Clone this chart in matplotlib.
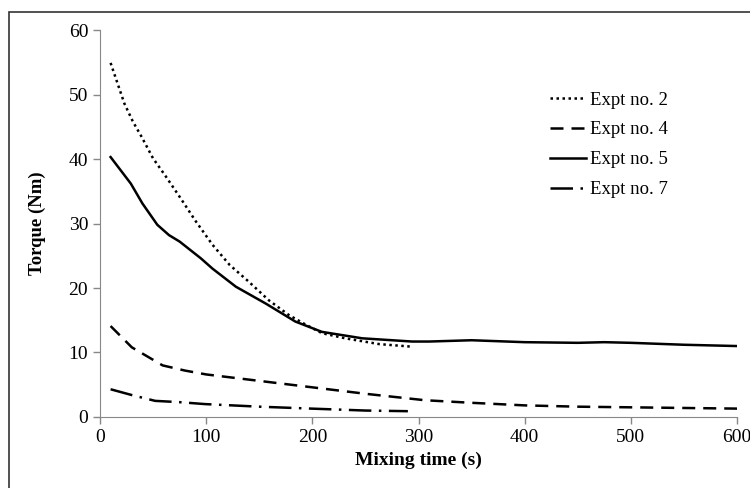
import numpy as np
import matplotlib.pyplot as plt
from matplotlib.patches import Rectangle

plt.rcParams['font.family'] = 'Liberation Serif'

# Torque vs mixing time
t2 = [10, 17, 23, 31, 39, 50, 62, 76, 90, 106, 122, 140, 159, 178, 194, 209, 231, 263, 294]
q2 = [54.9, 51.5, 48.6, 45.8, 43.5, 40.1, 37.3, 33.9, 30.4, 26.7, 23.6, 21.0, 18.1, 15.8, 14.3, 13.0, 12.2, 11.3, 10.9]

t4 = [10, 30, 59, 80, 100, 150, 200, 250, 306, 350, 400, 450, 500, 550, 600]
q4 = [14.1, 10.8, 8.0, 7.2, 6.6, 5.6, 4.6, 3.6, 2.6, 2.2, 1.8, 1.6, 1.5, 1.4, 1.3]

t5 = [10, 29, 40, 54, 65, 75, 95, 106, 128, 156, 184, 209, 247, 294, 310, 350, 400, 450, 475, 500, 550, 600]
q5 = [40.3, 36.2, 33.1, 29.8, 28.2, 27.2, 24.6, 23.0, 20.2, 17.6, 14.8, 13.2, 12.2, 11.7, 11.7, 11.9, 11.6, 11.5, 11.6, 11.5, 11.2, 11.0]

t7 = [10, 30, 52, 75, 99, 150, 199, 250, 290]
q7 = [4.3, 3.4, 2.5, 2.3, 2.0, 1.6, 1.3, 1.0, 0.9]

fig = plt.figure(figsize=(7.5, 4.88), dpi=100)
ax = fig.add_axes([0.1333, 0.1455, 0.8494, 0.793])

# outer frame of the original chart area
fig.patches.append(Rectangle((9 / 750, -0.1), 1.2, 1 - 12 / 488 + 0.1, transform=fig.transFigure,
                             fill=False, edgecolor='#333333', linewidth=1.2))

lw = 1.8
ax.plot(t2, q2, color='black', linestyle=(0, (1, 1.4)), linewidth=lw, label='Expt no. 2')
ax.plot(t4, q4, color='black', linestyle=(0, (5.2, 3.2)), linewidth=lw, label='Expt no. 4')
ax.plot(t5, q5, color='black', linestyle='-', linewidth=lw, label='Expt no. 5')
ax.plot(t7, q7, color='black', linestyle=(0, (9, 3, 1, 3)), linewidth=lw, label='Expt no. 7')

ax.set_xlim(0, 600)
ax.set_ylim(0, 60)
ax.set_xticks(range(0, 601, 100))
ax.set_yticks(range(0, 61, 10))
ax.tick_params(labelsize=14, color='#888888', length=5, width=1)

for s in ['top', 'right']:
    ax.spines[s].set_visible(False)
for s in ['left', 'bottom']:
    ax.spines[s].set_color('#888888')

ax.set_xlabel('Mixing time (s)', fontsize=14, fontweight='bold', labelpad=4)
ax.set_ylabel('Torque (Nm)', fontsize=13.5, fontweight='bold', labelpad=16)

ax.legend(loc='upper left', bbox_to_anchor=(0.68, 0.885), frameon=False, fontsize=13.5,
          handlelength=1.9, handletextpad=0.25, labelspacing=0.68)

fig.savefig('out.png', dpi=100)
